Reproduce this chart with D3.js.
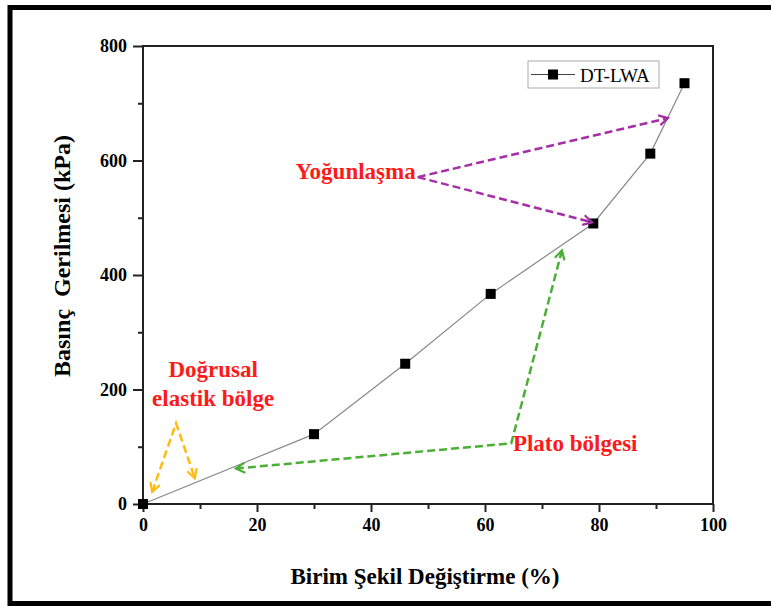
<!DOCTYPE html>
<html>
<head>
<meta charset="utf-8">
<script src="https://cdn.jsdelivr.net/npm/d3@7"></script>
<style>
  body { margin: 0; background: #fff; }
  svg text { font-family: "Liberation Serif", "Times New Roman", serif; }
</style>
</head>
<body>
<div id="plot"></div>
<script>
// data
const strain = [0, 30, 46, 61, 79, 89, 95];
const stress = [0, 122, 245, 367, 490, 612, 735];
const seriesName = "DT-LWA";
const xTicks = [0, 20, 40, 60, 80, 100];
const yTicks = [0, 200, 400, 600, 800];

// annotation arrows, in data units
const purpleArrows = [
  [[48.2, 571], [92.1, 674]],
  [[48.2, 571], [78.8, 492]]
];
const greenArrow = [[16.3, 62], [64.6, 106], [73.5, 443]];
const orangeArrow = [[1.6, 21], [5.8, 141], [9.1, 45]];
const labels = [
  {text: "Yoğunlaşma", x: 37.3, y: 567, anchor: "middle"},
  {text: "Doğrusal", x: 12.3, y: 222, anchor: "middle"},
  {text: "elastik bölge", x: 12.3, y: 172, anchor: "middle"},
  {text: "Plato bölgesi", x: 64.9, y: 92, anchor: "start"}
];

const W = 771, H = 606;
const margin = {top: 46, right: 58, bottom: 102, left: 143},
      width = W - margin.left - margin.right,
      height = H - margin.top - margin.bottom;
const axisColor = "#222";
const serif = "'Liberation Serif', 'Times New Roman', serif";

const svg = d3.select("#plot")
  .append("svg")
    .attr("width", W)
    .attr("height", H);

// outer frame (right side runs off the picture)
svg.append("rect")
  .attr("x", 10)
  .attr("y", 7.5)
  .attr("width", 820)
  .attr("height", 596)
  .attr("fill", "none")
  .attr("stroke", "#000")
  .attr("stroke-width", 5);

const g = svg.append("g")
  .attr("transform", "translate(" + margin.left + "," + margin.top + ")");

const x = d3.scaleLinear().domain([0, 100]).range([0, width]);
const y = d3.scaleLinear().domain([0, 800]).range([height, 0]);

// arrow markers
const defs = svg.append("defs");
const mkMarker = (id, color) => {
  defs.append("marker")
    .attr("id", id)
    .attr("viewBox", "-10 -6 12 12")
    .attr("refX", 0)
    .attr("refY", 0)
    .attr("markerWidth", 12)
    .attr("markerHeight", 12)
    .attr("markerUnits", "userSpaceOnUse")
    .attr("orient", "auto-start-reverse")
    .append("path")
      .attr("d", "M-9,-5 L0,0 L-9,5")
      .attr("fill", "none")
      .attr("stroke", color)
      .attr("stroke-width", 2.2);
};
mkMarker("arrPurple", "#a530a5");
mkMarker("arrGreen", "#4caf35");
mkMarker("arrOrange", "#ffbb10");

// axes
const xAxis = g.append("g")
  .attr("transform", "translate(0," + height + ")")
  .call(d3.axisBottom(x).tickValues(xTicks).tickSize(8).tickPadding(6).tickFormat(d3.format("d")));
const xMinor = g.append("g")
  .attr("transform", "translate(0," + height + ")")
  .call(d3.axisBottom(x).tickValues(d3.range(10, 100, 20)).tickSize(5).tickFormat(""));
const yAxis = g.append("g")
  .call(d3.axisLeft(y).tickValues(yTicks).tickSize(10).tickPadding(6).tickFormat(d3.format("d")));
const yMinor = g.append("g")
  .call(d3.axisLeft(y).tickValues(d3.range(100, 800, 200)).tickSize(5).tickFormat(""));

[xAxis, xMinor, yAxis, yMinor].forEach(a => {
  a.attr("font-family", serif);
  a.select(".domain").remove();
  a.selectAll(".tick line").attr("stroke", axisColor).attr("stroke-width", 2);
  a.selectAll(".tick text")
    .attr("fill", "#000")
    .attr("font-size", 18)
    .attr("font-weight", "bold");
});

// plot frame
g.append("rect")
  .attr("x", 0)
  .attr("y", 0)
  .attr("width", width)
  .attr("height", height)
  .attr("fill", "none")
  .attr("stroke", axisColor)
  .attr("stroke-width", 2);

// axis titles
svg.append("text")
  .attr("x", 425)
  .attr("y", 584)
  .attr("text-anchor", "middle")
  .attr("font-family", serif)
  .attr("font-size", 23)
  .attr("font-weight", "bold")
  .text("Birim Şekil Değiştirme (%)");

svg.append("text")
  .attr("transform", "translate(70,256) rotate(-90)")
  .attr("text-anchor", "middle")
  .attr("font-family", serif)
  .attr("font-size", 24)
  .attr("font-weight", "bold")
  .style("white-space", "pre")
  .text("Basınç  Gerilmesi (kPa)");

// series line + markers
const line = d3.line()
  .x((d, i) => x(strain[i]))
  .y(d => y(d));

g.append("path")
  .datum(stress)
  .attr("d", line)
  .attr("fill", "none")
  .attr("stroke", "#888")
  .attr("stroke-width", 1.2);

g.selectAll("rect.pt")
  .data(stress)
  .join("rect")
    .attr("class", "pt")
    .attr("x", (d, i) => x(strain[i]) - 5)
    .attr("y", d => y(d) - 5)
    .attr("width", 10)
    .attr("height", 10)
    .attr("fill", "#000");

// annotation arrows
const arrowLine = d3.line()
  .x(d => x(d[0]))
  .y(d => y(d[1]));

purpleArrows.forEach(a => {
  g.append("path")
    .attr("d", arrowLine(a))
    .attr("fill", "none")
    .attr("stroke", "#a530a5")
    .attr("stroke-width", 2.5)
    .attr("stroke-dasharray", "8,4")
    .attr("marker-end", "url(#arrPurple)");
});

g.append("path")
  .attr("d", arrowLine(greenArrow))
  .attr("fill", "none")
  .attr("stroke", "#4caf35")
  .attr("stroke-width", 2.5)
  .attr("stroke-dasharray", "8,4")
  .attr("marker-start", "url(#arrGreen)")
  .attr("marker-end", "url(#arrGreen)");

g.append("path")
  .attr("d", arrowLine(orangeArrow))
  .attr("fill", "none")
  .attr("stroke", "#ffbb10")
  .attr("stroke-width", 2.5)
  .attr("stroke-dasharray", "8,4")
  .attr("marker-start", "url(#arrOrange)")
  .attr("marker-end", "url(#arrOrange)");

// annotation labels
g.selectAll("text.note")
  .data(labels)
  .join("text")
    .attr("class", "note")
    .attr("x", d => x(d.x))
    .attr("y", d => y(d.y))
    .attr("text-anchor", d => d.anchor)
    .attr("font-family", serif)
    .attr("font-size", 23)
    .attr("font-weight", "bold")
    .attr("fill", "#ff1a1a")
    .text(d => d.text);

// legend
const leg = g.append("g")
  .attr("transform", "translate(" + (528 - margin.left) + "," + (61 - margin.top) + ")");
leg.append("rect")
  .attr("width", 131)
  .attr("height", 27)
  .attr("fill", "#fff")
  .attr("stroke", "#aaa")
  .attr("stroke-width", 1);
leg.append("line")
  .attr("x1", 3).attr("x2", 47)
  .attr("y1", 13.5).attr("y2", 13.5)
  .attr("stroke", "#444")
  .attr("stroke-width", 1.2);
leg.append("rect")
  .attr("x", 20).attr("y", 8.5)
  .attr("width", 10).attr("height", 10)
  .attr("fill", "#000");
leg.append("text")
  .attr("x", 52)
  .attr("y", 20.5)
  .attr("font-family", serif)
  .attr("font-size", 19)
  .text(seriesName);
</script>
</body>
</html>
